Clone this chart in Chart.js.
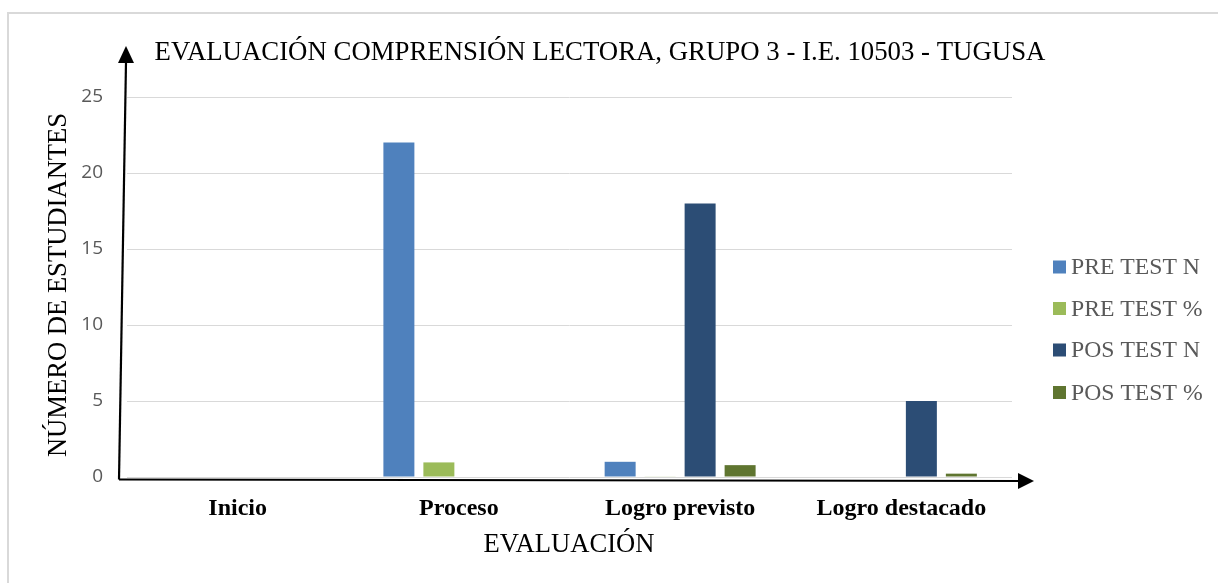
<!DOCTYPE html>
<html>
<head>
<meta charset="utf-8">
<script src="https://cdn.jsdelivr.net/npm/chart.js@4/dist/chart.umd.min.js"></script>
<style>
html,body{margin:0;padding:0;background:#fff;}
#wrap{width:1218px;height:583px;}
</style>
</head>
<body>
<div id="wrap"><canvas id="c" width="1218" height="583"></canvas></div>
<script>
const categories = ["Inicio", "Proceso", "Logro previsto", "Logro destacado"];
const preTestN   = [0, 22, 1, 0];
const preTestPct = [0, 0.96, 0.04, 0];
const posTestN   = [0, 0, 18, 5];
const posTestPct = [0, 0, 0.78, 0.22];
const yTicks = [0, 5, 10, 15, 20, 25];
const seriesNames = ["PRE TEST N", "PRE TEST %", "POS TEST N", "POS TEST %"];
const chartTitle = "EVALUACIÓN COMPRENSIÓN LECTORA, GRUPO 3 - I.E. 10503 - TUGUSA";
const xTitle = "EVALUACIÓN";
const yTitle = "NÚMERO DE ESTUDIANTES";

const colors = ["#4F81BD", "#9BBB59", "#2C4D75", "#5F7530"];
const SERIF = "'Liberation Serif', 'Times New Roman', serif";

const decor = {
  id: "decor",
  afterDraw(chart) {
    const ctx = chart.ctx;
    const a = chart.chartArea;
    ctx.save();
    // outer frame
    ctx.strokeStyle = "#d9d9d9";
    ctx.lineWidth = 2;
    ctx.strokeRect(8, 13, 1240, 600);

    // title
    ctx.fillStyle = "#000";
    ctx.font = "26.8px " + SERIF;
    ctx.textAlign = "center";
    ctx.textBaseline = "alphabetic";
    ctx.fillText(chartTitle, 600, 59.5);

    // x title
    ctx.font = "26.6px " + SERIF;
    ctx.fillText(xTitle, 569, 551.5);

    // y title
    ctx.save();
    ctx.translate(66, 285);
    ctx.rotate(-Math.PI / 2);
    ctx.fillText(yTitle, 0, 0);
    ctx.restore();

    // axes arrows
    ctx.strokeStyle = "#000";
    ctx.fillStyle = "#000";
    ctx.lineWidth = 2.2;
    const x0 = a.left - 8, y0 = a.bottom + 2.5;
    ctx.beginPath();
    ctx.moveTo(x0, y0);
    ctx.lineTo(a.left - 1, 62);
    ctx.stroke();
    ctx.beginPath();
    ctx.moveTo(a.left - 1, 46);
    ctx.lineTo(a.left - 9, 63);
    ctx.lineTo(a.left + 7, 63);
    ctx.closePath();
    ctx.fill();

    ctx.beginPath();
    ctx.moveTo(x0, y0);
    ctx.lineTo(1020, a.bottom + 4);
    ctx.stroke();
    ctx.beginPath();
    ctx.moveTo(1034, a.bottom + 4);
    ctx.lineTo(1018, a.bottom - 4);
    ctx.lineTo(1018, a.bottom + 12);
    ctx.closePath();
    ctx.fill();

    // legend
    ctx.font = "23.7px " + SERIF;
    ctx.textAlign = "left";
    ctx.textBaseline = "middle";
    const ys = [267, 308.5, 350, 392.5];
    chart.data.datasets.forEach((ds, i) => {
      ctx.fillStyle = ds.backgroundColor;
      ctx.fillRect(1053, ys[i] - 6.5, 13, 13);
      ctx.fillStyle = "#595959";
      ctx.fillText(ds.label, 1071, ys[i] + 1);
    });
    ctx.restore();
  }
};

const datasets = [preTestN, preTestPct, posTestN, posTestPct].map((d, i) => ({
  label: seriesNames[i],
  data: d,
  backgroundColor: colors[i],
  borderWidth: 0,
  categoryPercentage: 0.723,
  barPercentage: 0.775
}));

new Chart(document.getElementById("c"), {
  type: "bar",
  data: { labels: categories, datasets },
  options: {
    responsive: false,
    animation: false,
    devicePixelRatio: 1,
    layout: { padding: { left: 0, top: 97, right: 206, bottom: 0 } },
    plugins: {
      legend: { display: false },
      title: { display: false },
      tooltip: { enabled: false }
    },
    scales: {
      x: {
        grid: { display: false },
        border: { display: false },
        ticks: {
          color: "#000",
          font: { family: SERIF, size: 24, weight: "bold" },
          padding: 9,
          maxRotation: 0
        },
        afterFit(s) { s.height = 106; }
      },
      y: {
        min: 0, max: 25,
        afterBuildTicks(s) { s.ticks = yTicks.map(v => ({ value: v })); },
        grid: { color: "#d9d9d9", lineWidth: 1, drawTicks: false },
        border: { display: false },
        ticks: {
          color: "#595959",
          font: { family: "'Open Sans', sans-serif", size: 19 },
          padding: 24
        },
        afterFit(s) { s.width = 127; }
      }
    }
  },
  plugins: [decor]
});
</script>
</body>
</html>
